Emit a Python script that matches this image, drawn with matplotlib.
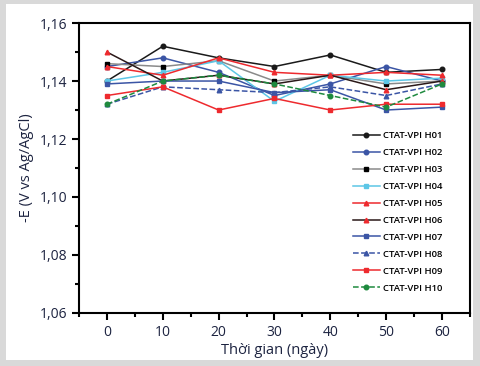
import matplotlib
matplotlib.use('Agg')
import matplotlib.pyplot as plt
from matplotlib.patches import Rectangle
from matplotlib.ticker import MultipleLocator, FuncFormatter

plt.rcParams['font.family'] = ['Open Sans', 'DejaVu Sans']

# thời gian (ngày)
days = [0, 10, 20, 30, 40, 50, 60]

labels = ['CTAT-VPI H01', 'CTAT-VPI H02', 'CTAT-VPI H03', 'CTAT-VPI H04', 'CTAT-VPI H05',
          'CTAT-VPI H06', 'CTAT-VPI H07', 'CTAT-VPI H08', 'CTAT-VPI H09', 'CTAT-VPI H10']
h01 = [1.140, 1.152, 1.148, 1.145, 1.149, 1.143, 1.144]
h02 = [1.145, 1.148, 1.143, 1.135, 1.139, 1.145, 1.140]
h03 = [1.146, 1.145, 1.147, 1.140, 1.142, 1.139, 1.140]
h04 = [1.140, 1.143, 1.147, 1.133, 1.142, 1.140, 1.141]
h05 = [1.145, 1.142, 1.148, 1.143, 1.142, 1.143, 1.142]
h06 = [1.150, 1.140, 1.142, 1.139, 1.142, 1.137, 1.140]
h07 = [1.139, 1.140, 1.140, 1.136, 1.137, 1.130, 1.131]
h08 = [1.132, 1.138, 1.137, 1.136, 1.138, 1.135, 1.139]
h09 = [1.135, 1.138, 1.130, 1.134, 1.130, 1.132, 1.132]
h10 = [1.132, 1.140, 1.142, 1.139, 1.135, 1.131, 1.139]
series = [h01, h02, h03, h04, h05, h06, h07, h08, h09, h10]

# kiểu đường: (màu đường, màu marker, marker, kiểu nét)
styles = [
    ('#1a1a1a', '#1a1a1a', 'o', '-'),
    ('#3b55a5', '#3b55a5', 'o', '-'),
    ('#8a8a8a', '#000000', 's', '-'),
    ('#5cc6e6', '#5cc6e6', 's', '-'),
    ('#ee2a2e', '#ee2a2e', '^', '-'),
    ('#2a1818', '#ee2a2e', '^', '-'),
    ('#3b55a5', '#3b55a5', 's', '-'),
    ('#3b55a5', '#3b55a5', '^', '--'),
    ('#ee2a2e', '#ee2a2e', 's', '-'),
    ('#1e8a3e', '#1e8a3e', 'o', '--'),
]

fig = plt.figure(figsize=(4.8, 3.66), dpi=100)
fig.patch.set_facecolor('#d9d9d9')
fig.patches.append(Rectangle((0.012, 0.017), 0.973, 0.971, transform=fig.transFigure,
                             facecolor='white', edgecolor='none', zorder=-10))

ax = fig.add_axes([0.1646, 0.145, 0.8144, 0.792])
ax.set_zorder(1)
for y, lab, (lc, mc, mk, ls) in zip(series, labels, styles):
    ax.plot(days, y, color=lc, linestyle=ls, linewidth=1.1, marker=mk, markersize=3.3,
            markerfacecolor=mc, markeredgecolor=mc, label=lab)

ax.set_xlim(-5, 65)
ax.set_ylim(1.06, 1.16)
ax.xaxis.set_major_locator(MultipleLocator(10))
ax.xaxis.set_minor_locator(MultipleLocator(5))
ax.yaxis.set_major_locator(MultipleLocator(0.02))
ax.yaxis.set_minor_locator(MultipleLocator(0.01))
ax.yaxis.set_major_formatter(FuncFormatter(lambda v, p: f'{v:.2f}'.replace('.', ',')))

txt = '#1c2340'
ax.tick_params(which='both', direction='out', width=1.5, labelsize=10, labelcolor=txt)
ax.tick_params(which='major', length=5)
ax.tick_params(which='minor', length=3)
for s in ax.spines.values():
    s.set_linewidth(1.5)

ax.set_xlabel('Thời gian (ngày)', fontsize=10.5, color=txt, labelpad=2)
ax.set_ylabel('-E (V vs Ag/AgCl)', fontsize=10.5, color=txt, labelpad=4)

ax.legend(loc='upper left', bbox_to_anchor=(0.69, 0.64), frameon=False,
          handlelength=2.9, labelspacing=0.84, handletextpad=0.3, borderaxespad=0,
          prop={'size': 6.8, 'weight': 'semibold'})

fig.savefig('out.png', dpi=100, facecolor=fig.get_facecolor())
